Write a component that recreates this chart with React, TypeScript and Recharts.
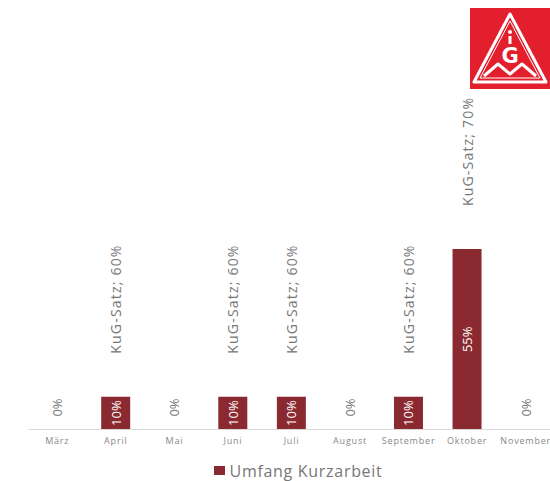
import { BarChart, Bar, XAxis, YAxis, Legend, LabelList } from "recharts";

const months = ["März", "April", "Mai", "Juni", "Juli", "August", "September", "Oktober", "November"];
const umfang = [0, 10, 0, 10, 10, 0, 10, 55, 0];
const kugSatz = [null, 60, null, 60, 60, null, 60, 70, null];

const data = months.map((m, i) => ({
  month: m,
  umfang: umfang[i],
  umfangText: `${umfang[i]}%`,
  kug: kugSatz[i],
}));

const BAR = "#8b2931";
const FONT = "'Open Sans', 'DejaVu Sans', sans-serif";

function ValueLabel(props: any) {
  const { x, y, width, height, value } = props;
  const cx = x + width / 2;
  const zero = value === "0%";
  const cy = zero ? y + height - 22 : y + height / 2;
  return (
    <text
      x={cx}
      y={cy}
      transform={`rotate(-90 ${cx} ${cy})`}
      textAnchor="middle"
      dominantBaseline="central"
      fontSize={13}
      fontFamily={FONT}
      fill={zero ? "#777" : "#fff"}
    >
      {value}
    </text>
  );
}

function KugLabel(props: any) {
  const { x, y, width, value } = props;
  if (value == null) return null;
  const cx = x + width / 2;
  const cy = y - 43;
  return (
    <text
      x={cx}
      y={cy}
      transform={`rotate(-90 ${cx} ${cy})`}
      textAnchor="start"
      dominantBaseline="central"
      fontSize={14}
      letterSpacing={1.2}
      fontFamily={FONT}
      fill="#777"
    >
      {`KuG-Satz; ${value}%`}
    </text>
  );
}

function LegendBox() {
  return (
    <div style={{ display: "flex", justifyContent: "center", alignItems: "center", paddingTop: 12, paddingLeft: 13, height: 18, lineHeight: "18px" }}>
      <span style={{ width: 11, height: 9, background: BAR, display: "inline-block", marginRight: 5 }} />
      <span style={{ fontFamily: FONT, fontSize: 16, color: "#777", letterSpacing: 0.7 }}>Umfang Kurzarbeit</span>
    </div>
  );
}

function Logo() {
  return (
    <svg width={80} height={81} style={{ position: "absolute", left: 470, top: 8 }}>
      <rect x={0} y={0} width={80} height={81} fill="#e31e2d" />
      <path d="M40 6 L4 74 L76 74 Z" fill="none" stroke="#fff" strokeWidth={3} strokeLinejoin="round" />
      <path d="M40 13 L10 70 L70 70 Z" fill="none" stroke="#fff" strokeWidth={1} />
      <circle cx={40} cy={24} r={2} fill="#fff" />
      <rect x={38.5} y={28} width={3} height={8} fill="#fff" />
      <text x={40} y={55} textAnchor="middle" fontSize={21} fontWeight="bold" fontFamily="'DejaVu Sans', sans-serif" fill="#fff">G</text>
      <path d="M14 68 L28 56 L40 66 L52 56 L66 68" fill="none" stroke="#fff" strokeWidth={3} strokeLinejoin="round" />
    </svg>
  );
}

export default function App() {
  return (
    <div style={{ position: "absolute", left: 0, top: 0, width: 550, height: 481, overflow: "hidden", background: "#fff" }}>
      <BarChart
        width={565}
        height={481}
        data={data}
        margin={{ top: 101.5, right: 10, left: 28, bottom: 1.5 }}
        barCategoryGap="25%"
      >
        <XAxis
          dataKey="month"
          axisLine={{ stroke: "#d9d9d9" }}
          tickLine={false}
          height={20}
          interval={0}
          tick={{ fontSize: 9, fill: "#888", fontFamily: FONT, letterSpacing: 0.8 }}
        />
        <YAxis hide domain={[0, 100]} />
        <Legend verticalAlign="bottom" height={30} content={<LegendBox />} />
        <Bar dataKey="umfang" fill={BAR} minPointSize={0.01} isAnimationActive={false}>
          <LabelList dataKey="umfangText" content={<ValueLabel />} />
          <LabelList dataKey="kug" content={<KugLabel />} />
        </Bar>
      </BarChart>
      <Logo />
    </div>
  );
}
